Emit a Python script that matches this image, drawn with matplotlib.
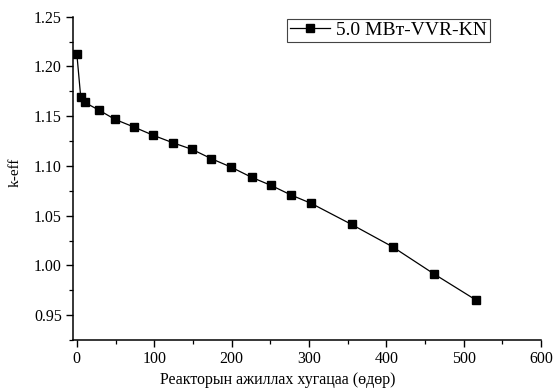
import matplotlib
matplotlib.use('Agg')
import matplotlib.pyplot as plt
from matplotlib.ticker import MultipleLocator

plt.rcParams['font.family'] = ['Liberation Serif', 'DejaVu Serif']

# burnup data
days = [0, 5, 10, 29, 49, 74, 99, 124, 149, 174, 199, 226, 251, 277, 303, 355, 408, 462, 516]
keff = [1.2125, 1.1692, 1.1639, 1.1559, 1.1469, 1.1390, 1.1307, 1.1233, 1.1166, 1.1072,
        1.0989, 1.0885, 1.0804, 1.0707, 1.0623, 1.0412, 1.0187, 0.9912, 0.9651]
series_label = '5.0 MBт-VVR-KN'

fig = plt.figure(figsize=(5.55, 3.91), dpi=100)
ax = fig.add_axes([0.1315, 0.1304, 0.8435, 0.8269])

ax.plot(days, keff, color='black', linewidth=0.9, marker='s', markersize=5.8,
        label=series_label)

ax.set_xlim(-5, 600)
ax.set_ylim(0.925, 1.25)
ax.xaxis.set_major_locator(MultipleLocator(100))
ax.xaxis.set_minor_locator(MultipleLocator(50))
ax.yaxis.set_major_locator(MultipleLocator(0.05))
ax.yaxis.set_minor_locator(MultipleLocator(0.025))
ax.yaxis.set_major_formatter(plt.FormatStrFormatter('%.2f'))

ax.spines['top'].set_visible(False)
ax.spines['right'].set_visible(False)
for s in ('left', 'bottom'):
    ax.spines[s].set_linewidth(1.1)

ax.tick_params(which='major', direction='out', length=5, width=1.0, labelsize=11.5, pad=3)
ax.tick_params(which='minor', direction='out', length=3, width=0.9)

ax.set_xlabel('Реакторын ажиллах хугацаа (өдөр)', fontsize=11.5)
ax.set_ylabel('k-eff', fontsize=11)
ax.xaxis.set_label_coords(0.438, -0.1)
ax.yaxis.set_label_coords(-0.11, 0.52)

leg = ax.legend(loc='upper right', bbox_to_anchor=(0.895, 1.0), fontsize=14,
                fancybox=False, framealpha=1, edgecolor='#444444', handlelength=2.1,
                handletextpad=0.3, borderpad=0.15, borderaxespad=0.1)
leg.get_frame().set_linewidth(0.8)

fig.savefig('out.png', dpi=100)
